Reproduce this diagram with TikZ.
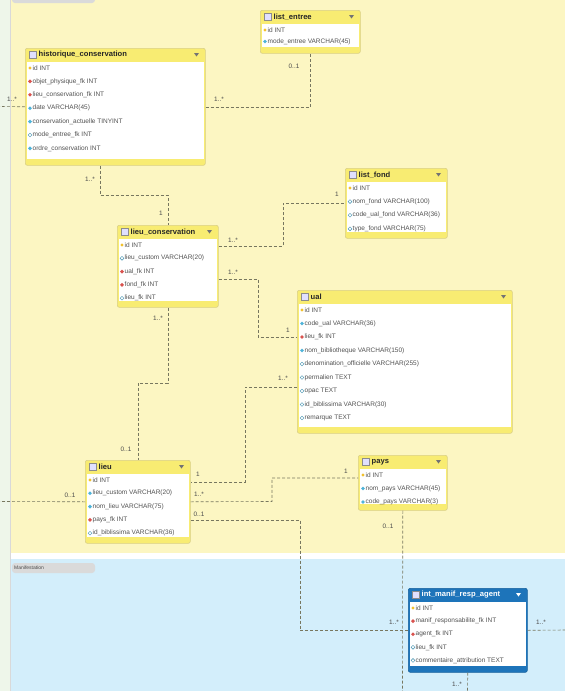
\documentclass[tikz,border=0pt]{standalone}
\usepackage{fontspec}
\setmainfont{Liberation Sans}
\usetikzlibrary{shapes.geometric}
\definecolor{bgyel}{HTML}{FCF6C2}
\definecolor{bgblue}{HTML}{D3EEFB}
\definecolor{leftstrip}{HTML}{EEF6EA}
\definecolor{headyel}{HTML}{F8EC72}
\definecolor{bordyel}{HTML}{D9CF86}
\definecolor{headblue}{HTML}{1D74BA}
\definecolor{bordblue}{HTML}{16609C}
\definecolor{relcol}{HTML}{77775F}
\definecolor{tabgray}{HTML}{DADADA}
\definecolor{fkred}{HTML}{D9534F}
\definecolor{nncyan}{HTML}{4FB3D9}
\definecolor{keyyel}{HTML}{F2C12E}
\newcommand\dbtab[9]{%
  \node[tbox#7, minimum width=#4pt, minimum height=#5pt, anchor=north west] (#1) at (#2,#3) {};
  \fill[white] (#2+1.5,#3+14) rectangle (#2+#4-1.5,#3+#5-6);
  \node[tico, anchor=west] (#1-ic) at (#2+3.5,#3+7) {};
  \node[ttitle#7, anchor=west] (#1-t) at (#2+13.5,#3+7) {#6};
  \fill[tarr#7] (#2+#4-11,#3+5) -- ++(5,0) -- ++(-2.5,3.5) -- cycle;
  \foreach \ic/\tx [count=\i from 0] in {#9} {
    \node[\ic] (#1-i\i) at (#2+5,#3+20+\i*#8) {};
    \node[rowtxt, anchor=west] (#1-r\i) at (#2+7.5,#3+20+\i*#8) {\tx};
  }%
}
\begin{document}
\begin{tikzpicture}[x=1pt,y=-1pt,
  tboxY/.style={draw=bordyel, fill=headyel, rounded corners=2pt, inner sep=0pt, line width=0.6pt},
  tboxB/.style={draw=bordblue, fill=headblue, rounded corners=2pt, inner sep=0pt, line width=0.6pt},
  tico/.style={draw=black!45, fill=blue!12, minimum width=7pt, minimum height=7pt, inner sep=0pt, line width=0.5pt},
  ttitleY/.style={font=\fontsize{7.6}{8}\selectfont\bfseries, text=black!85, inner sep=0pt},
  ttitleB/.style={font=\fontsize{7.6}{8}\selectfont\bfseries, text=white, inner sep=0pt},
  tarrY/.style={fill=black!55},
  tarrB/.style={fill=white},
  rowtxt/.style={font=\fontsize{6.5}{7}\selectfont, text=black!68, inner sep=0pt},
  iconk/.style={circle, fill=keyyel, minimum size=3.2pt, inner sep=0pt},
  iconr/.style={diamond, fill=fkred, minimum size=4pt, inner sep=0pt},
  iconc/.style={diamond, fill=nncyan, minimum size=4pt, inner sep=0pt},
  icono/.style={diamond, draw=nncyan!80!black, fill=white, line width=0.4pt, minimum size=4pt, inner sep=0pt},
  rel/.style={draw=relcol, dashed, dash pattern=on 3pt off 2pt, line width=0.6pt},
  card/.style={font=\fontsize{6.4}{7}\selectfont, text=black!70, inner sep=0pt}
]
\useasboundingbox (0,0) rectangle (565,691);
% backgrounds
\fill[leftstrip] (0,0) rectangle (10,691);
\fill[bgyel] (10,0) rectangle (565,553);
\fill[white] (10,553) rectangle (565,559);
\fill[bgblue] (10,559) rectangle (565,691);
\draw[black!15, line width=0.5pt] (10,0) -- (10,691);
\fill[tabgray, rounded corners=3pt] (12,-6) rectangle (95,3);
\fill[tabgray, rounded corners=3pt] (12,563) rectangle (95,573);
\node[anchor=west, font=\fontsize{5}{6}\selectfont, text=black!70, inner sep=0pt] (tabm) at (14,568) {Manifestation};

% tables
\dbtab{hist}{25}{48}{180}{117}{historique\_conservation}{Y}{13.4}{iconk/id INT, iconr/objet\_physique\_fk INT, iconr/lieu\_conservation\_fk INT, iconc/date VARCHAR(45), iconc/conservation\_actuelle TINYINT, icono/mode\_entree\_fk INT, iconc/ordre\_conservation INT}
\dbtab{lentree}{260}{10}{100}{43}{list\_entree}{Y}{11.5}{iconk/id INT, iconc/mode\_entree VARCHAR(45)}
\dbtab{lfond}{345}{168}{102}{70}{list\_fond}{Y}{13.6}{iconk/id INT, icono/nom\_fond VARCHAR(100), icono/code\_ual\_fond VARCHAR(36), icono/type\_fond VARCHAR(75)}
\dbtab{lcons}{117}{225}{101}{82}{lieu\_conservation}{Y}{13.3}{iconk/id INT, icono/lieu\_custom VARCHAR(20), iconr/ual\_fk INT, iconr/fond\_fk INT, icono/lieu\_fk INT}
\dbtab{ual}{297}{290}{215}{143}{ual}{Y}{13.5}{iconk/id INT, iconc/code\_ual VARCHAR(36), iconr/lieu\_fk INT, iconc/nom\_bibliotheque VARCHAR(150), icono/denomination\_officielle VARCHAR(255), icono/permalien TEXT, icono/opac TEXT, icono/id\_biblissima VARCHAR(30), icono/remarque TEXT}
\dbtab{lieu}{85}{460}{105}{83}{lieu}{Y}{13.3}{iconk/id INT, iconc/lieu\_custom VARCHAR(20), iconc/nom\_lieu VARCHAR(75), iconr/pays\_fk INT, icono/id\_biblissima VARCHAR(36)}
\dbtab{pays}{358}{455}{89}{55}{pays}{Y}{13.5}{iconk/id INT, iconc/nom\_pays VARCHAR(45), iconc/code\_pays VARCHAR(3)}
\dbtab{imra}{408}{588}{119}{84}{int\_manif\_resp\_agent}{B}{13.1}{iconk/id INT, iconr/manif\_responsabilite\_fk INT, iconr/agent\_fk INT, icono/lieu\_fk INT, icono/commentaire\_attribution TEXT}

% free ends
\coordinate (ext1) at (0,106.5);
\coordinate (ext2) at (0,501.5);
\coordinate (ext3) at (402.5,691);
\coordinate (ext4) at (565,630);
\coordinate (ext5) at (467.5,691);

% connectors
\draw[rel] (hist.west) -- (ext1);
\draw[rel] (hist.east) -| (lentree.south);
\draw[rel] (hist.south -| 100,0) -- (100,195) -| (lcons.north);
\draw[rel] (lcons.east |- 0,246) -- (283,246) |- (lfond.west);
\draw[rel] (lcons.east |- 0,279) -- (258,279) |- (ual.west |- 0,337);
\draw[rel] (lcons.south) -- (lcons.south |- 0,383) -| (lieu.north);
\draw[rel] (ual.west |- 0,387) -- (245,387) |- (lieu.east |- 0,482);
\draw[rel] (lieu.east) -- (272,501.5) |- (pays.west |- 0,478);
\draw[rel] (lieu.east |- 0,520) -- (300,520) |- (imra.west);
\draw[rel] (lieu.west) -- (ext2);
\draw[rel] (pays.south) -- (ext3);
\draw[rel] (imra.east) -- (ext4);
\draw[rel] (imra.south) -- (ext5);

% cardinalities
\node[card] (c1) at (12,99) {1..*};
\node[card] (c2) at (219,99) {1..*};
\node[card] (c3) at (294,66) {0..1};
\node[card] (c4) at (90,179) {1..*};
\node[card] (c5) at (161,213) {1};
\node[card] (c6) at (233,240) {1..*};
\node[card] (c7) at (337,194) {1};
\node[card] (c8) at (233,272) {1..*};
\node[card] (c9) at (288,330) {1};
\node[card] (c10) at (158,318) {1..*};
\node[card] (c11) at (126,449) {0..1};
\node[card] (c12) at (283,378) {1..*};
\node[card] (c13) at (198,474) {1};
\node[card] (c14) at (199,494) {1..*};
\node[card] (c15) at (346,471) {1};
\node[card] (c16) at (199,514) {0..1};
\node[card] (c17) at (394,622) {1..*};
\node[card] (c18) at (70,495) {0..1};
\node[card] (c19) at (388,526) {0..1};
\node[card] (c20) at (541,622) {1..*};
\node[card] (c21) at (457,684) {1..*};
\end{tikzpicture}
\end{document}
